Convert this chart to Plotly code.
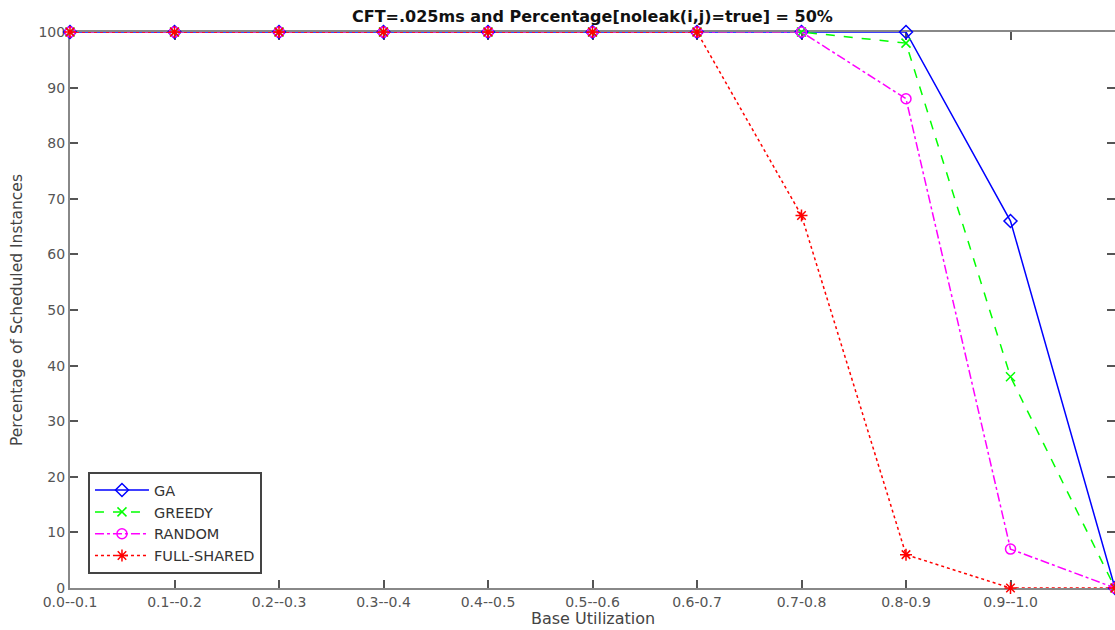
import plotly.graph_objects as go

categories = ["0.0--0.1", "0.1--0.2", "0.2--0.3", "0.3--0.4", "0.4--0.5",
              "0.5--0.6", "0.6-0.7", "0.7-0.8", "0.8-0.9", "0.9--1.0", ""]
x_pos = list(range(len(categories)))

ga = [100, 100, 100, 100, 100, 100, 100, 100, 100, 66, 0]
greedy = [100, 100, 100, 100, 100, 100, 100, 100, 98, 38, 0]
random_ = [100, 100, 100, 100, 100, 100, 100, 100, 88, 7, 0]
full_shared = [100, 100, 100, 100, 100, 100, 100, 67, 6, 0, 0]

y_ticks = [0, 10, 20, 30, 40, 50, 60, 70, 80, 90, 100]

series = [
    ("GA", ga, "#0000FF", "solid", "diamond-open", 10),
    ("GREEDY", greedy, "#00FF00", "dash", "x-thin-open", 9),
    ("RANDOM", random_, "#FF00FF", "dashdot", "circle-open", 10),
    ("FULL-SHARED", full_shared, "#FF0000", "dot", "asterisk-open", 10),
]

FONT = "DejaVu Sans, Liberation Sans, Arial, sans-serif"

fig = go.Figure()
for name, vals, color, dash, symbol, size in series:
    fig.add_trace(go.Scatter(
        x=x_pos, y=vals, name=name, mode="lines+markers",
        line=dict(color=color, width=1.5, dash=dash),
        marker=dict(symbol=symbol, size=size, color=color,
                    line=dict(color=color, width=1.5)),
        cliponaxis=False,
    ))

# invisible trace to carry right-side mirror ticks
fig.add_trace(go.Scatter(x=[0], y=[0], yaxis="y2", showlegend=False,
                         mode="markers", marker=dict(opacity=0),
                         hoverinfo="skip"))

fig.update_layout(
    width=1115, height=630,
    margin=dict(l=70, r=0, t=32, b=42),
    plot_bgcolor="white", paper_bgcolor="white",
    font=dict(family=FONT, size=14, color="#555555"),
    showlegend=True,
    legend=dict(x=0.0172, y=0.025, xanchor="left", yanchor="bottom",
                bordercolor="#444444", borderwidth=2, bgcolor="white",
                font=dict(size=14.5, color="#333333", family=FONT),
                itemwidth=54, tracegroupgap=0),
    xaxis=dict(
        range=[0, 10], tickmode="array", tickvals=x_pos, ticktext=categories,
        ticks="inside", ticklen=8, tickcolor="#555555", tickwidth=1.5,
        showline=True, linecolor="#888888", linewidth=2, mirror="ticks",
        showgrid=False, zeroline=False, layer="below traces",
        tickfont=dict(size=14, color="#555555", family=FONT),
    ),
    yaxis=dict(
        range=[0, 100], tickmode="array", tickvals=y_ticks,
        ticks="inside", ticklen=8, tickcolor="#555555", tickwidth=1.5,
        showline=True, linecolor="#888888", linewidth=2,
        showgrid=False, zeroline=False, layer="below traces",
        tickfont=dict(size=14, color="#555555", family=FONT),
    ),
    yaxis2=dict(
        range=[0, 100], overlaying="y", side="right", tickmode="array",
        tickvals=y_ticks, ticks="inside", ticklen=8, tickcolor="#555555",
        tickwidth=1.5, showticklabels=False, showline=False, showgrid=False,
        zeroline=False,
    ),
)

fig.add_annotation(text="<b>CFT=.025ms and Percentage[noleak(i,j)=true] = 50%</b>",
                   x=0.5, y=1.0, xref="paper", yref="paper", yshift=16,
                   yanchor="middle", showarrow=False,
                   font=dict(size=16, color="#111111", family=FONT))
fig.add_annotation(text="Base Utilization", x=0.5, y=0, xref="paper", yref="paper",
                   yshift=-30, yanchor="middle", showarrow=False,
                   font=dict(size=16, color="#444444", family=FONT))
fig.add_annotation(text="Percentage of Scheduled Instances", x=0, y=0.5,
                   xref="paper", yref="paper", xshift=-53, xanchor="center",
                   textangle=-90, showarrow=False,
                   font=dict(size=15.5, color="#444444", family=FONT))

fig.write_html("out.html", config={"displayModeBar": False},
               post_script="document.body.style.margin='0';")
